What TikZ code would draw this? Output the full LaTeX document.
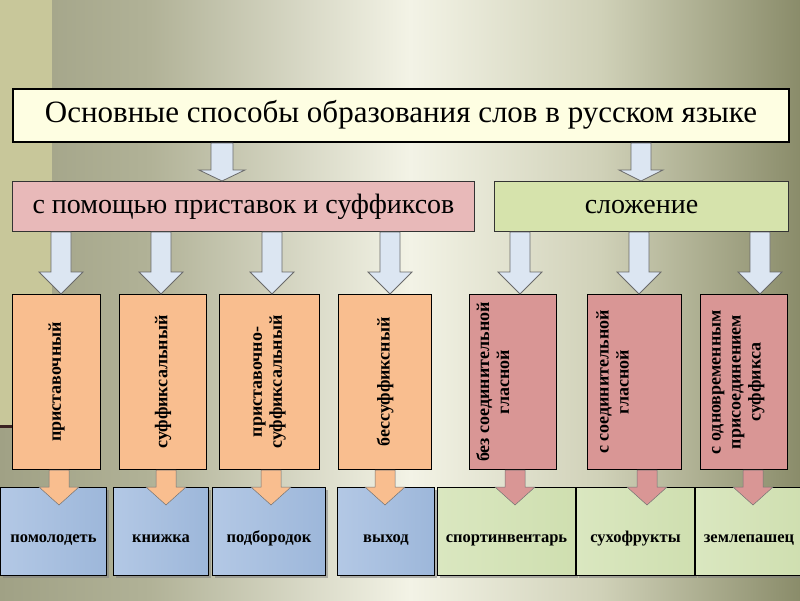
\documentclass[tikz,border=0pt]{standalone}
\usepackage{fontspec}
\setmainfont{Liberation Serif}
\usetikzlibrary{calc,shadows}
\definecolor{stripc}{HTML}{C8C79A}
\definecolor{lineC}{HTML}{3B2222}
\definecolor{titlefill}{HTML}{FEFEE2}
\definecolor{pinkfill}{HTML}{E8B9B9}
\definecolor{greenfill}{HTML}{D6E3AC}
\definecolor{orfill}{HTML}{F9BE8F}
\definecolor{rosefill}{HTML}{D99695}
\definecolor{arrfill}{HTML}{DCE6F2}
\definecolor{arrdraw}{HTML}{6A6A6A}
\definecolor{bgA}{HTML}{A0A185}
\definecolor{bgB}{HTML}{B1B297}
\definecolor{bgC}{HTML}{F3F3E6}
\definecolor{bgD}{HTML}{D0D1B8}
\definecolor{bgE}{HTML}{8A8C6A}
\definecolor{blueL}{HTML}{B3C8E5}
\definecolor{blueM}{HTML}{E6EEF7}
\definecolor{blueR}{HTML}{9DB7DA}
\definecolor{grnL}{HTML}{DAE7C0}
\definecolor{grnM}{HTML}{F1F6E6}
\definecolor{grnR}{HTML}{CFDFB0}
\newcommand\blkarrow[6]{%
  \path[#1] let \p1=(#2), \p2=(#3) in
   (\x1-#4pt,\y1) -- (\x1+#4pt,\y1) -- (\x1+#4pt,\y2+#6pt) -- (\x1+#5pt,\y2+#6pt)
   -- (\x1,\y2) -- (\x1-#5pt,\y2+#6pt) -- (\x1-#4pt,\y2+#6pt) -- cycle;}
\tikzset{
  box/.style={rectangle, draw=black, line width=1pt, inner sep=0pt, anchor=north west},
  titlebox/.style={box, fill=titlefill, line width=2pt, font=\fontsize{31}{36}\selectfont,
     text height=21pt, text depth=7pt},
  midbox/.style={box, draw=black!80, font=\fontsize{28}{32}\selectfont,
     text height=19pt, text depth=6pt},
  obox/.style={box, fill=orfill},
  rbox/.style={box, fill=rosefill},
  vtext/.style={rotate=90, inner sep=0pt, align=center, font=\bfseries\fontsize{18}{20}\selectfont},
  wordbox/.style={box, drop shadow={shadow xshift=2.5pt, shadow yshift=-2.5pt, opacity=0.55}},
  wordlabel/.style={anchor=base, inner sep=0pt, font=\bfseries\fontsize{16.5}{18}\selectfont},
  bluebox/.style={wordbox, left color=blueL, middle color=blueM, right color=blueR},
  greenbox/.style={wordbox, left color=grnL, middle color=grnM, right color=grnR},
  bigarrow/.style={fill=arrfill, draw=arrdraw, line width=0.8pt},
  orarrow/.style={fill=orfill, draw=black!55, line width=0.5pt},
  rosearrow/.style={fill=rosefill, draw=black!55, line width=0.5pt}
}
\begin{document}
\begin{tikzpicture}[x=1pt,y=-1pt]
\useasboundingbox (0,0) rectangle (800,600);
% background
\shade[left color=bgA, right color=bgB] (0,0) rectangle (150.5,600);
\shade[left color=bgB, right color=bgC] (150,0) rectangle (410.5,600);
\shade[left color=bgC, right color=bgD] (410,0) rectangle (600.5,600);
\shade[left color=bgD, right color=bgE] (600,0) rectangle (800,600);
\fill[stripc] (0,0) rectangle (52,425);
\draw[lineC, line width=3pt] (0,426) -- (52,426);
% axis coordinates
\coordinate (ca1) at (222,0); \coordinate (ca2) at (641,0);
\coordinate (r1) at (61,0); \coordinate (r2) at (161,0); \coordinate (r3) at (272,0);
\coordinate (r4) at (390,0); \coordinate (r5) at (520,0); \coordinate (r6) at (639,0);
\coordinate (r7) at (760,0);
\coordinate (s1) at (59,0); \coordinate (s2) at (166,0); \coordinate (s3) at (271,0);
\coordinate (s4) at (385,0); \coordinate (s5) at (515,0); \coordinate (s6) at (647,0);
\coordinate (s7) at (753,0);
% boxes
\node[titlebox, minimum width=776pt, minimum height=53pt] (title) at (12,88)
  {Основные способы образования слов в русском языке};
\node[midbox, fill=pinkfill, minimum width=462pt, minimum height=50pt] (m1) at (12,181)
  {с помощью приставок и суффиксов};
\node[midbox, fill=greenfill, minimum width=294pt, minimum height=50pt] (m2) at (494,181)
  {сложение};
\node[obox, minimum width=88pt, minimum height=175pt] (v1) at (12,294) {};
\node[obox, minimum width=87pt, minimum height=175pt] (v2) at (119,294) {};
\node[obox, minimum width=100pt, minimum height=175pt] (v3) at (219,294) {};
\node[obox, minimum width=93pt, minimum height=175pt] (v4) at (338,294) {};
\node[rbox, minimum width=87pt, minimum height=175pt] (v5) at (469,294) {};
\node[rbox, minimum width=94pt, minimum height=175pt] (v6) at (587,294) {};
\node[rbox, minimum width=87pt, minimum height=175pt] (v7) at (700,294) {};
\node[vtext] (t1) at (v1.center) {приставочный};
\node[vtext] (t2) at (v2.center) {суффиксальный};
\node[vtext] (t3) at (v3.center) {приставочно-\\суффиксальный};
\node[vtext] (t4) at (v4.center) {бессуффиксный};
\node[vtext, anchor=north] (t5) at ($(v5.west)+(7,0)$) {без соединительной\\гласной};
\node[vtext, anchor=north] (t6) at ($(v6.west)+(9,0)$) {с соединительной\\гласной};
\node[vtext, anchor=north] (t7) at ($(v7.west)+(12,0)$) {с одновременным\\присоединением\\суффикса};
% bottom word boxes
\node[bluebox, minimum width=106pt, minimum height=88pt] (b1) at (0,487) {};
\node[bluebox, minimum width=95pt, minimum height=88pt] (b2) at (113,487) {};
\node[bluebox, minimum width=113pt, minimum height=88pt] (b3) at (212,487) {};
\node[bluebox, minimum width=97pt, minimum height=88pt] (b4) at (337,487) {};
\node[greenbox, minimum width=138pt, minimum height=88pt] (b5) at (437,487) {};
\node[greenbox, minimum width=118pt, minimum height=88pt] (b6) at (576,487) {};
\node[greenbox, minimum width=107pt, minimum height=88pt] (b7) at (695,487) {};
\node[wordlabel] (w1) at ($(b1.center)+(0,11)$) {помолодеть};
\node[wordlabel] (w2) at ($(b2.center)+(0,11)$) {книжка};
\node[wordlabel] (w3) at ($(b3.center)+(0,11)$) {подбородок};
\node[wordlabel] (w4) at ($(b4.center)+(0,11)$) {выход};
\node[wordlabel] (w5) at ($(b5.center)+(0,11)$) {спортинвентарь};
\node[wordlabel] (w6) at ($(b6.center)+(0,11)$) {сухофрукты};
\node[wordlabel] (w7) at ($(b7.center)+(0,11)$) {землепашец};
% big arrows
\blkarrow{bigarrow}{title.south -| ca1}{m1.north -| ca1}{11}{23}{11}
\blkarrow{bigarrow}{title.south -| ca2}{m2.north -| ca2}{10}{22}{11}
\blkarrow{bigarrow}{m1.south -| r1}{v1.north -| r1}{10}{22}{22}
\blkarrow{bigarrow}{m1.south -| r2}{v2.north -| r2}{10}{22}{22}
\blkarrow{bigarrow}{m1.south -| r3}{v3.north -| r3}{10}{22}{22}
\blkarrow{bigarrow}{m1.south -| r4}{v4.north -| r4}{10}{22}{22}
\blkarrow{bigarrow}{m2.south -| r5}{v5.north -| r5}{10}{22}{22}
\blkarrow{bigarrow}{m2.south -| r6}{v6.north -| r6}{10}{22}{22}
\blkarrow{bigarrow}{m2.south -| r7}{v7.north -| r7}{10}{22}{22}
% small arrows
\blkarrow{orarrow}{v1.south -| s1}{$(b1.north -| s1)+(0,18)$}{10}{20}{18}
\blkarrow{orarrow}{v2.south -| s2}{$(b2.north -| s2)+(0,18)$}{10}{20}{18}
\blkarrow{orarrow}{v3.south -| s3}{$(b3.north -| s3)+(0,18)$}{10}{20}{18}
\blkarrow{orarrow}{v4.south -| s4}{$(b4.north -| s4)+(0,18)$}{10}{20}{18}
\blkarrow{rosearrow}{v5.south -| s5}{$(b5.north -| s5)+(0,18)$}{10}{20}{18}
\blkarrow{rosearrow}{v6.south -| s6}{$(b6.north -| s6)+(0,18)$}{10}{20}{18}
\blkarrow{rosearrow}{v7.south -| s7}{$(b7.north -| s7)+(0,18)$}{10}{20}{18}
\end{tikzpicture}
\end{document}
